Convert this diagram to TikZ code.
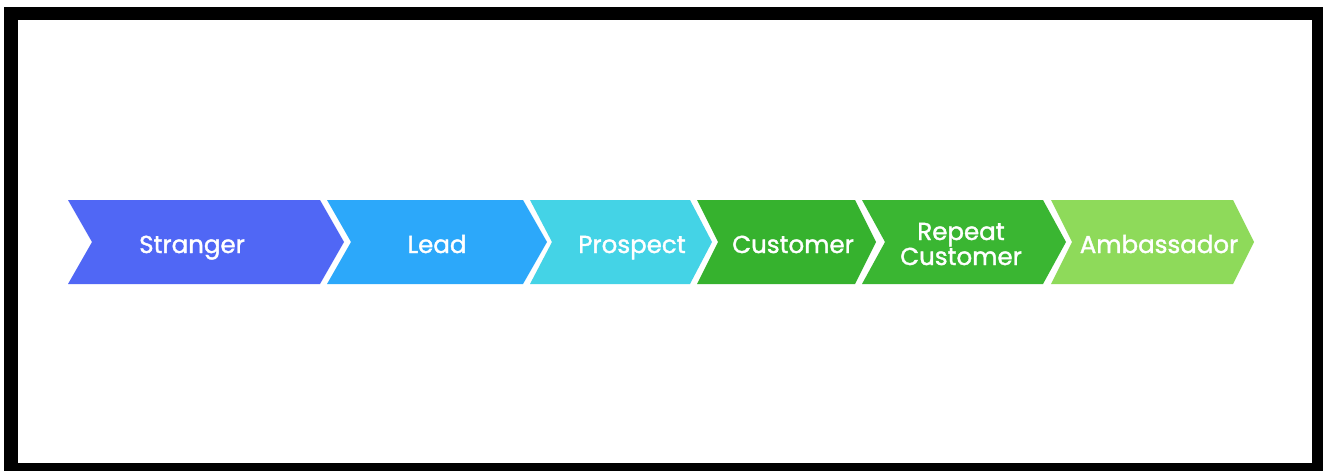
\documentclass[tikz,border=0pt]{standalone}
\usepackage{fontspec}
\setmainfont{Poppins}
\newfontfamily\lblfont[FakeBold=1.5]{Poppins}
\definecolor{cStranger}{HTML}{5067F5}
\definecolor{cLead}{HTML}{2CA8FA}
\definecolor{cProspect}{HTML}{44D3E6}
\definecolor{cCustomer}{HTML}{36B22E}
\definecolor{cRepeat}{HTML}{3AB632}
\definecolor{cAmb}{HTML}{8EDA5A}
\tikzset{
  lbl/.style={text=white, font=\lblfont\fontsize{24.5}{25}\selectfont, align=center, inner sep=0pt, anchor=base},
}
\newcommand\chevpath[4]{% x0, x1, color, depth
  \fill[#3] (#1,200) -- (#2,200) -- (#2+#4,242) -- (#2,284) -- (#1,284) -- (#1+#4,242) -- cycle;}
\begin{document}
\begin{tikzpicture}[x=1pt,y=-1pt]
\useasboundingbox (0,0) rectangle (1323,471);
\fill[white] (0,0) rectangle (1323,471);
\fill[black] (4,7) rectangle (1323,471);
\fill[white] (18,20) rectangle (1312,463);
\chevpath{68}{320}{cStranger}{24}
\chevpath{327}{523}{cLead}{24}
\chevpath{530}{690}{cProspect}{22}
\chevpath{697}{855}{cCustomer}{21}
\chevpath{862}{1043}{cRepeat}{23}
\chevpath{1051}{1233}{cAmb}{21}
\node[lbl] (stranger) at (192,253) {Stranger};
\node[lbl] (lead) at (437,253) {Lead};
\node[lbl] (prospect) at (632,253) {Prospect};
\node[lbl] (customer) at (793,253) {Customer};
\node[lbl] (repeat) at (961,265) {Repeat\\Customer};
\node[lbl] (amb) at (1159,253) {Ambassador};
\end{tikzpicture}
\end{document}
